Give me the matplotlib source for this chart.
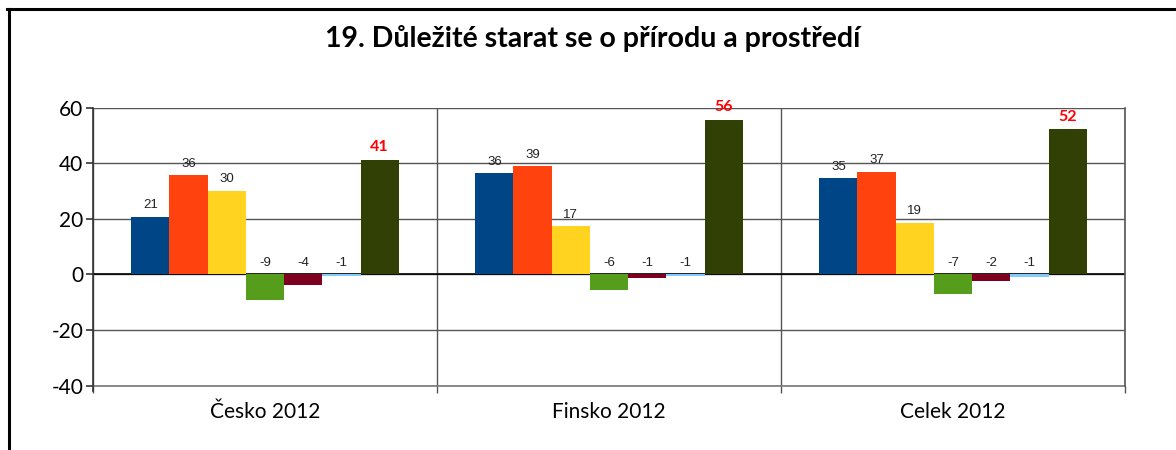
import matplotlib
matplotlib.use("Agg")
import matplotlib.pyplot as plt
from matplotlib.lines import Line2D
import numpy as np

title = "19. Důležité starat se o přírodu a prostředí"
categories = ["Česko 2012", "Finsko 2012", "Celek 2012"]
series_colors = ["#004586", "#ff420e", "#ffd320", "#579d1c", "#7e0021", "#83caff", "#314004"]
# values per category (7 series each)
cesko = [20.6, 35.6, 30.0, -9.4, -3.7, -0.6, 41.1]
finsko = [36.4, 38.8, 17.3, -5.7, -1.4, -0.6, 55.6]
celek = [34.6, 36.8, 18.6, -7.2, -2.4, -0.8, 52.2]
yticks = [-40, -20, 0, 20, 40, 60]

data = np.array([cesko, finsko, celek])
n_series = data.shape[1]
bw = 1.0 / 9

fig = plt.figure(figsize=(11.76, 4.5), dpi=100)
ax = fig.add_axes([93/1176, 1 - 385.5/450, (1125-93)/1176, (385.5-107.5)/450])

x = np.arange(len(categories))
for j in range(n_series):
    xs = x + (j - (n_series - 1) / 2) * bw
    vals = data[:, j]
    ax.bar(xs, vals, width=bw, color=series_colors[j], zorder=3, linewidth=0)
    for xi, v in zip(xs, vals):
        lab = f"{v:.0f}"
        if j == n_series - 1:
            ax.annotate(lab, (xi, max(v, 0)), xytext=(0, 4), textcoords="offset points",
                        ha="center", va="bottom", color="#ff0000", fontsize=11.5,
                        fontweight="bold", family="Lato", zorder=5)
        else:
            ax.annotate(lab, (xi, max(v, 0)), xytext=(0, 4), textcoords="offset points",
                        ha="center", va="bottom", color="#222222", fontsize=9.5,
                        family="Liberation Sans", zorder=5)

ax.set_xlim(-0.5, len(categories) - 0.5)
ax.set_ylim(-40, 60)
ax.set_yticks(yticks)
ax.set_yticklabels([str(t) for t in yticks], fontsize=15, family="Lato")
ax.set_xticks(x)
ax.set_xticklabels(categories, fontsize=15, family="Lato")
ax.tick_params(axis="x", which="major", length=0, pad=12)
ax.set_xticks(np.arange(len(categories) + 1) - 0.5, minor=True)
ax.tick_params(axis="x", which="minor", length=5, color="#555555", width=1)
ax.tick_params(axis="y", length=5, width=1.2, color="#333333", pad=2)

ax.grid(axis="y", color="#555555", linewidth=1, zorder=1)
ax.grid(axis="x", which="minor", color="#555555", linewidth=1, zorder=1)
ax.axhline(0, color="#000000", linewidth=1.2, zorder=2)
ax.axhline(-40, color="#777777", linewidth=1.2, zorder=2, clip_on=False)
ax.axvline(2.5, color="#555555", linewidth=1.2, zorder=2, clip_on=False)

for s in ["top", "right", "bottom"]:
    ax.spines[s].set_visible(False)
ax.spines["left"].set_color("#333333")
ax.spines["left"].set_linewidth(1.2)
ax.spines["left"].set_bounds(-42, 60)

fig.text(593/1176, 1 - 38/450, title, ha="center", va="center",
         fontsize=20.5, fontweight="bold", family="Lato")

# outer frame (left and top)
fig.add_artist(Line2D([8.5/1176, 8.5/1176], [0, 1 - 8.5/450], color="black", linewidth=2.2,
                      transform=fig.transFigure))
fig.add_artist(Line2D([7/1176, 1], [1 - 8.5/450, 1 - 8.5/450], color="black", linewidth=2.2,
                      transform=fig.transFigure))
fig.add_artist(Line2D([1175.5/1176, 1175.5/1176], [0, 1 - 10/450], color="#dddddd", linewidth=0.8,
                      transform=fig.transFigure))

fig.savefig("out.png", dpi=100)
